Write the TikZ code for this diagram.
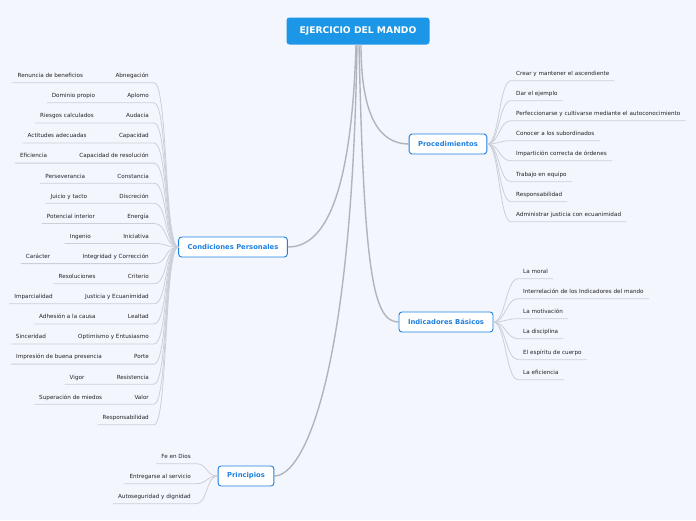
\documentclass[tikz,border=0pt]{standalone}
\usepackage{fontspec}
\setmainfont{DejaVu Sans}
\usetikzlibrary{positioning}

\definecolor{bgcol}{RGB}{243,246,253}
\definecolor{rootblue}{RGB}{28,150,230}
\definecolor{topicblue}{RGB}{30,128,225}
\definecolor{linegray}{RGB}{204,207,215}
\definecolor{trunkgray}{RGB}{178,180,188}
\definecolor{txtgray}{RGB}{35,35,40}

\tikzset{
	root/.style={fill=rootblue, text=white, rounded corners=3pt, font=\bfseries\fontsize{9.2}{10}\selectfont, minimum width=143pt, minimum height=27pt, inner sep=0pt},
	topic/.style={draw=topicblue, fill=white, text=topicblue, line width=0.9pt, rounded corners=3pt, font=\bfseries\fontsize{6.8}{8}\selectfont, minimum height=20pt, inner xsep=9pt},
	sub/.style={text=txtgray, font=\fontsize{5.65}{6.5}\selectfont, text height=4pt, text depth=1pt, inner ysep=4pt, inner xsep=5pt},
	twig/.style={draw=linegray, line width=0.8pt},
	trunk/.style={draw=trunkgray, line width=1.4pt},
}

\begin{document}
\begin{tikzpicture}[x=1pt, y=-1pt]
	
	% page
	\fill[bgcol] (0,0) rectangle (696,520);
	
	% central topic
	\node[root] (root) at (358,31) {EJERCICIO DEL MANDO};
	
	% main topics
	\node[topic] (proc) at (448,144) {Procedimientos};
	\node[topic] (indic) at (446,322) {Indicadores Básicos};
	\node[topic] (cond) at (233,247) {Condiciones Personales};
	\node[topic] (princ) at (246,476) {Principios};
	
	% trunks from the centre
	\draw[trunk] ([xshift=3pt]root.south) .. controls +(0,70) and +(-30,0) .. (proc.west);
	\draw[trunk] ([xshift=1pt]root.south) .. controls +(5,230) and +(-25,0) .. (indic.west);
	\draw[trunk] ([xshift=-2pt]root.south) .. controls +(-5,170) and +(30,0) .. (cond.east);
	\draw[trunk] ([xshift=-1pt]root.south) .. controls +(-5,330) and +(30,0) .. (princ.east);
	
	% Procedimientos
	\foreach \y/\txt [count=\i] in {74/Crear y mantener el ascendiente, 94/Dar el ejemplo, 114/Perfeccionarse y cultivarse mediante el autoconocimiento, 134/Conocer a los subordinados, 154/Impartición correcta de órdenes, 175/Trabajo en equipo, 195/Responsabilidad, 215/Administrar justicia con ecuanimidad} {
		\node[sub, anchor=west] (p\i) at (511,\y) {\txt};
		\draw[twig] (proc.east) .. controls +(12,0) and +(-12,0) .. (p\i.south west) -- (p\i.south east);
	}
	
	% Indicadores Basicos
	\node[sub, anchor=west, text width=25pt] (b1) at (518,272) {La moral};
	\draw[twig] (indic.east) .. controls +(12,0) and +(-12,0) .. (b1.south west) -- (b1.south east);
	\foreach \y/\txt [count=\i from 2] in {292/Interrelación de los Indicadores del mando, 312/La motivación, 332/La disciplina, 353/El espíritu de cuerpo, 373/La eficiencia} {
		\node[sub, anchor=west] (b\i) at (518,\y) {\txt};
		\draw[twig] (indic.east) .. controls +(12,0) and +(-12,0) .. (b\i.south west) -- (b\i.south east);
	}
	
	% Condiciones Personales (with detail on the left)
	\foreach \quality/\detail [count=\i from 0] in {Abnegación/Renuncia de beneficios, Aplomo/Dominio propio, Audacia/Riesgos calculados, Capacidad/Actitudes adecuadas, Capacidad de resolución/Eficiencia, Constancia/Perseverancia, Discreción/Juicio y tacto, Energía/Potencial interior, Iniciativa/Ingenio, Integridad y Corrección/Carácter, Criterio/Resoluciones, Justicia y Ecuanimidad/Imparcialidad, Lealtad/Adhesión a la causa, Optimismo y Entusiasmo/Sinceridad, Porte/Impresión de buena presencia, Resistencia/Vigor, Valor/Superación de miedos} {
		\node[sub, anchor=east] (c\i) at (154,{76+20.1*\i}) {\quality};
		\node[sub, left=22pt of c\i] (d\i) {\detail};
		\draw[twig] (cond.west) .. controls +(-14,0) and +(14,0) .. (c\i.south east) -- (d\i.south west);
	}
	\node[sub, anchor=east] (c17) at (154,418) {Responsabilidad};
	\draw[twig] (cond.west) .. controls +(-14,0) and +(14,0) .. (c17.south east) -- (c17.south west);
	
	% Principios
	\foreach \y/\txt [count=\i] in {457/Fe en Dios, 477/Entregarse al servicio, 497/Autoseguridad y dignidad} {
		\node[sub, anchor=east] (f\i) at (196,\y) {\txt};
		\draw[twig] (princ.west) .. controls +(-12,0) and +(12,0) .. (f\i.south east) -- (f\i.south west);
	}
	
\end{tikzpicture}
\end{document}
